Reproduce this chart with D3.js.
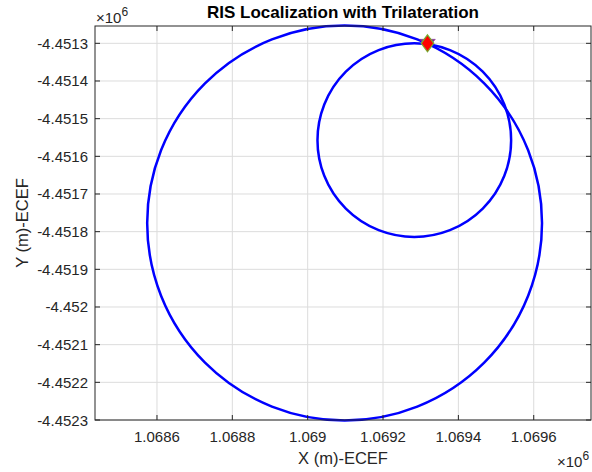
<!DOCTYPE html>
<html>
<head>
<meta charset="utf-8">
<script src="https://cdn.jsdelivr.net/npm/d3@7"></script>
<style>
  html, body { margin: 0; padding: 0; background: #fff; }
  svg { display: block; font-family: "Liberation Sans", Arial, sans-serif; }
</style>
</head>
<body>
<svg id="chart" width="592" height="472"></svg>
<script>
// Range circles (ECEF metres): centres and radii
const circleCX = [1069098, 1069283];
const circleCY = [-4451777, -4451557];
const circleR  = [524, 257];

// Estimated position (intersection of the range circles)
const estX = [1069318];
const estY = [-4451300];

// Axis ticks (metres) and their labels (scaled by 10^6)
const xTicks = [1068600, 1068800, 1069000, 1069200, 1069400, 1069600];
const xTickLabels = ["1.0686", "1.0688", "1.069", "1.0692", "1.0694", "1.0696"];
const yTicks = [-4451300, -4451400, -4451500, -4451600, -4451700, -4451800,
                -4451900, -4452000, -4452100, -4452200, -4452300];
const yTickLabels = ["-4.4513", "-4.4514", "-4.4515", "-4.4516", "-4.4517", "-4.4518",
                     "-4.4519", "-4.452", "-4.4521", "-4.4522", "-4.4523"];

const xDomain = [1068435.5, 1069752];
const yDomain = [-4452300, -4451254];

const svg = d3.select("#chart");
const pLeft = 95, pRight = 591, pTop = 26, pBottom = 420;
const axisColor = "#262626";

const x = d3.scaleLinear().domain(xDomain).range([pLeft, pRight]);
const y = d3.scaleLinear().domain(yDomain).range([pBottom, pTop]);

// grid
const grid = svg.append("g");
grid.selectAll("line.vx").data(xTicks).join("line")
  .attr("class", "vx")
  .attr("x1", d => x(d)).attr("x2", d => x(d))
  .attr("y1", pTop).attr("y2", pBottom)
  .attr("stroke", "#dcdcdc").attr("stroke-width", 1);
grid.selectAll("line.hy").data(yTicks).join("line")
  .attr("class", "hy")
  .attr("x1", pLeft).attr("x2", pRight)
  .attr("y1", d => y(d)).attr("y2", d => y(d))
  .attr("stroke", "#dcdcdc").attr("stroke-width", 1);

// plot area clip
svg.append("clipPath").attr("id", "plotclip")
  .append("rect").attr("x", pLeft).attr("y", pTop - 2)
  .attr("width", pRight - pLeft).attr("height", pBottom - pTop + 4);

const plot = svg.append("g").attr("clip-path", "url(#plotclip)");

// range circles
plot.selectAll("circle.range").data(circleCX).join("circle")
  .attr("class", "range")
  .attr("cx", d => x(d))
  .attr("cy", (d, i) => y(circleCY[i]))
  .attr("r", (d, i) => x(d + circleR[i]) - x(d))
  .attr("fill", "none")
  .attr("stroke", "#0000ff")
  .attr("stroke-width", 2.5);

// markers: true position (purple triangle) under estimate (red diamond)
const tri = d3.symbol().type(d3.symbolTriangle).size(75);
plot.selectAll("path.truth").data(estX).join("path")
  .attr("class", "truth")
  .attr("d", tri)
  .attr("transform", (d, i) => `translate(${x(d)},${y(estY[i]) - 1}) rotate(180) scale(1.2,0.8)`)
  .attr("fill", "#7e2f8e").attr("stroke", "#7e2f8e").attr("stroke-width", 0.5);

plot.selectAll("path.est").data(estX).join("path")
  .attr("class", "est")
  .attr("d", (d, i) => {
    const cx = x(d), cy = y(estY[i]);
    return `M${cx},${cy - 8.5} L${cx + 6.3},${cy} L${cx},${cy + 8.5} L${cx - 6.3},${cy} Z`;
  })
  .attr("fill", "#ff0000").attr("stroke", "#77ac30").attr("stroke-width", 1.2);

// axes box
svg.append("rect").attr("x", pLeft).attr("y", pTop)
  .attr("width", pRight - pLeft).attr("height", pBottom - pTop)
  .attr("fill", "none").attr("stroke", axisColor).attr("stroke-width", 1);

// inward ticks on all four sides
const tl = 5;
const ticks = svg.append("g").attr("stroke", axisColor).attr("stroke-width", 1);
xTicks.forEach(t => {
  ticks.append("line").attr("x1", x(t)).attr("x2", x(t)).attr("y1", pBottom).attr("y2", pBottom - tl);
  ticks.append("line").attr("x1", x(t)).attr("x2", x(t)).attr("y1", pTop).attr("y2", pTop + tl);
});
yTicks.forEach(t => {
  ticks.append("line").attr("x1", pLeft).attr("x2", pLeft + tl).attr("y1", y(t)).attr("y2", y(t));
  ticks.append("line").attr("x1", pRight).attr("x2", pRight - tl).attr("y1", y(t)).attr("y2", y(t));
});

// tick labels
svg.append("g").selectAll("text").data(xTicks).join("text")
  .attr("x", d => x(d)).attr("y", 442)
  .attr("text-anchor", "middle")
  .attr("font-size", 15).attr("fill", axisColor)
  .text((d, i) => xTickLabels[i]);

svg.append("g").selectAll("text").data(yTicks).join("text")
  .attr("x", 88).attr("y", d => y(d) + 5.5)
  .attr("text-anchor", "end")
  .attr("font-size", 15).attr("fill", axisColor)
  .text((d, i) => yTickLabels[i]);

// exponent markers
function exponent(xPos, yPos) {
  const t = svg.append("text").attr("x", xPos).attr("y", yPos)
    .attr("font-size", 15).attr("fill", axisColor);
  t.append("tspan").text("\u00d710");
  t.append("tspan").attr("dy", -7).attr("font-size", 12).text("6");
}
exponent(96, 23);
exponent(557, 467);

// title and axis labels
svg.append("text").attr("x", (pLeft + pRight) / 2).attr("y", 18)
  .attr("text-anchor", "middle").attr("font-size", 17).attr("font-weight", "bold")
  .attr("fill", "#000").text("RIS Localization with Trilateration");

svg.append("text").attr("x", (pLeft + pRight) / 2).attr("y", 464)
  .attr("text-anchor", "middle").attr("font-size", 16.5)
  .attr("fill", axisColor).text("X (m)-ECEF");

svg.append("text")
  .attr("transform", `translate(28,${(pTop + pBottom) / 2}) rotate(-90)`)
  .attr("text-anchor", "middle").attr("font-size", 16.5)
  .attr("fill", axisColor).text("Y (m)-ECEF");
</script>
</body>
</html>
